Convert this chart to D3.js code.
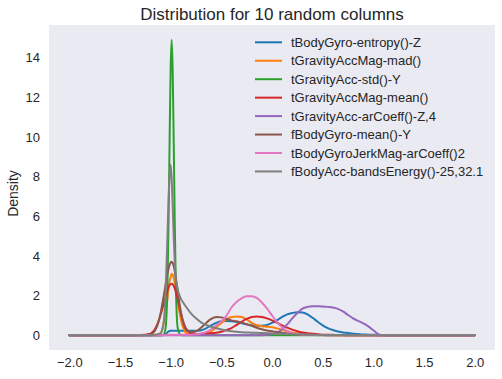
<!DOCTYPE html>
<html>
<head>
<meta charset="utf-8">
<script src="https://cdn.jsdelivr.net/npm/d3@7"></script>
<style>
  html, body { margin: 0; padding: 0; background: #ffffff; }
  svg { display: block; }
  text { font-family: "Liberation Sans", Arial, sans-serif; fill: #262626; }
</style>
</head>
<body>
<svg id="chart" width="502" height="379"></svg>
<script>
const titleText = "Distribution for 10 random columns";
const yLabel = "Density";
const xTicks = [-2.0, -1.5, -1.0, -0.5, 0.0, 0.5, 1.0, 1.5, 2.0];
const yTicks = [0, 2, 4, 6, 8, 10, 12, 14];

const seriesNames = [
  "tBodyGyro-entropy()-Z",
  "tGravityAccMag-mad()",
  "tGravityAcc-std()-Y",
  "tGravityAccMag-mean()",
  "tGravityAcc-arCoeff()-Z,4",
  "fBodyGyro-mean()-Y",
  "tBodyGyroJerkMag-arCoeff()2",
  "fBodyAcc-bandsEnergy()-25,32.1"
];
const seriesColors = ["#1f77b4", "#ff7f0e", "#2ca02c", "#d62728", "#9467bd", "#8c564b", "#e377c2", "#7f7f7f"];

// shared x grid (density evaluation points)
const xGrid = [-2.0, -1.5, -1.3, -1.2, -1.15, -1.1, -1.07, -1.05, -1.03, -1.02, -1.01, -1.0, -0.99, -0.98, -0.97, -0.96, -0.95, -0.93, -0.9, -0.87, -0.85, -0.8, -0.75, -0.7, -0.65, -0.6, -0.55, -0.5, -0.45, -0.4, -0.35, -0.3, -0.25, -0.2, -0.15, -0.1, -0.05, 0.0, 0.05, 0.1, 0.15, 0.2, 0.25, 0.3, 0.35, 0.4, 0.45, 0.5, 0.55, 0.6, 0.65, 0.7, 0.75, 0.8, 0.85, 0.9, 0.95, 1.0, 1.05, 1.1, 1.2, 1.5, 2.0];

const blueVals   = [0,0,0,0,0,0,0.01,0.05,0.15,0.19,0.21,0.22,0.22,0.22,0.22,0.22,0.22,0.22,0.22,0.22,0.22,0.22,0.22,0.25,0.35,0.5,0.62,0.7,0.72,0.7,0.66,0.6,0.55,0.5,0.48,0.48,0.52,0.62,0.76,0.92,1.05,1.12,1.16,1.15,1.05,0.88,0.68,0.5,0.36,0.26,0.19,0.14,0.11,0.08,0.06,0.04,0.03,0.02,0.01,0,0,0,0];
const orangeVals = [0,0,0,0,0.01,0.09,0.58,1.27,1.88,2.48,2.73,2.93,3.1,3.05,2.9,2.67,2.38,1.7,0.81,0.29,0.12,0.04,0.05,0.08,0.12,0.2,0.4,0.62,0.8,0.92,0.95,0.92,0.8,0.62,0.5,0.45,0.43,0.4,0.34,0.27,0.2,0.14,0.1,0.07,0.05,0.03,0.02,0.01,0,0,0,0,0,0,0,0,0,0,0,0,0,0,0];
const greenVals  = [0,0,0,0,0,0,0.03,0.36,2.85,5.9,9.9,13.4,14.9,13.4,9.9,5.9,2.85,0.36,0.01,0,0,0,0,0,0,0,0,0,0,0,0,0,0,0,0,0,0,0,0,0,0,0,0,0,0,0,0,0,0,0,0,0,0,0,0,0,0,0,0,0,0,0,0];
const redVals    = [0,0,0.01,0.08,0.35,1.01,1.58,1.95,2.29,2.42,2.52,2.58,2.6,2.57,2.49,2.37,2.21,1.8,1.13,0.6,0.35,0.1,0.06,0.06,0.08,0.1,0.13,0.18,0.26,0.36,0.52,0.68,0.82,0.92,0.95,0.92,0.85,0.75,0.63,0.5,0.38,0.28,0.2,0.14,0.1,0.07,0.05,0.03,0.02,0.02,0.01,0.01,0,0,0,0,0,0,0,0,0,0,0];
const purpleVals = [0,0,0,0,0,0,0,0,0,0,0,0,0,0,0,0,0,0,0,0,0,0,0,0,0,0,0,0,0,0,0,0,0,0,0,0,0.02,0.06,0.12,0.3,0.55,0.85,1.12,1.34,1.43,1.46,1.46,1.45,1.43,1.4,1.33,1.2,1.02,0.85,0.72,0.6,0.45,0.25,0.05,0,0,0,0];
const brownVals  = [0,0,0,0.04,0.27,1.08,1.93,2.55,3.15,3.37,3.55,3.66,3.7,3.65,3.5,3.26,2.96,2.24,1.2,0.5,0.3,0.15,0.2,0.38,0.62,0.82,0.92,0.9,0.82,0.75,0.7,0.64,0.56,0.47,0.38,0.3,0.24,0.2,0.16,0.12,0.09,0.07,0.05,0.04,0.03,0.02,0.01,0.01,0,0,0,0,0,0,0,0,0,0,0,0,0,0,0];
const pinkVals   = [0,0,0,0,0,0,0,0,0.01,0.02,0.03,0.03,0.03,0.03,0.03,0.03,0.03,0.03,0.03,0.03,0.03,0.03,0.05,0.09,0.16,0.3,0.5,0.7,0.98,1.4,1.68,1.86,1.96,1.97,1.88,1.65,1.35,1.0,0.65,0.4,0.22,0.11,0.06,0.03,0.02,0.01,0,0,0,0,0,0,0,0,0,0,0,0,0,0,0,0,0];
const grayVals   = [0,0,0,0,0.02,0.1,0.6,2.1,5.2,6.9,8.1,8.6,7.9,6.6,5.0,3.8,2.9,2.3,1.85,1.6,1.45,1.1,0.85,0.65,0.52,0.43,0.35,0.29,0.24,0.2,0.17,0.15,0.14,0.13,0.12,0.11,0.1,0.09,0.08,0.07,0.06,0.05,0.04,0.035,0.03,0.025,0.02,0.015,0.01,0.01,0.01,0.01,0.01,0.01,0.01,0.01,0.01,0.005,0,0,0,0,0];

const seriesValues = [blueVals, orangeVals, greenVals, redVals, purpleVals, brownVals, pinkVals, grayVals];

const svg = d3.select("#chart");
const margin = { left: 49, right: 7, top: 25, bottom: 29 };
const W = 502, H = 379;
const pw = W - margin.left - margin.right;
const ph = H - margin.top - margin.bottom;

const x = d3.scaleLinear().domain([-2.2, 2.2]).range([margin.left, margin.left + pw]);
const y = d3.scaleLinear().domain([-0.745, 15.645]).range([margin.top + ph, margin.top]);

svg.append("rect")
  .attr("x", margin.left).attr("y", margin.top)
  .attr("width", pw).attr("height", ph)
  .attr("fill", "#eaeaf2");

svg.append("clipPath").attr("id", "clip")
  .append("rect").attr("x", margin.left).attr("y", margin.top).attr("width", pw).attr("height", ph);

const line = d3.line()
  .x(d => x(d[0]))
  .y(d => y(d[1]))
  .curve(d3.curveMonotoneX);

const g = svg.append("g").attr("clip-path", "url(#clip)");
seriesValues.forEach((vals, i) => {
  const pts = xGrid.map((xv, j) => [xv, vals[j]]);
  g.append("path")
    .datum(pts)
    .attr("d", line)
    .attr("fill", "none")
    .attr("stroke", seriesColors[i])
    .attr("stroke-width", 2)
    .attr("stroke-linejoin", "round")
    .attr("stroke-linecap", "round");
});

// x axis
const xAxis = d3.axisBottom(x).tickValues(xTicks).tickFormat(d3.format(".1f")).tickSize(0).tickPadding(8);
const xg = svg.append("g").attr("transform", `translate(0,${margin.top + ph})`).call(xAxis);
xg.select(".domain").remove();
xg.selectAll("text").attr("font-size", 13).attr("fill", "#262626").attr("font-family", "Liberation Sans, Arial, sans-serif");

// y axis
const yAxis = d3.axisLeft(y).tickValues(yTicks).tickFormat(d3.format("d")).tickSize(0).tickPadding(9);
const yg = svg.append("g").attr("transform", `translate(${margin.left},0)`).call(yAxis);
yg.select(".domain").remove();
yg.selectAll("text").attr("font-size", 13).attr("fill", "#262626").attr("font-family", "Liberation Sans, Arial, sans-serif");

// title
svg.append("text")
  .attr("x", margin.left + pw / 2).attr("y", 20)
  .attr("text-anchor", "middle")
  .attr("font-size", 17)
  .text(titleText);

// y label
svg.append("text")
  .attr("transform", `translate(18,${margin.top + ph / 2 + 6}) rotate(-90)`)
  .attr("text-anchor", "middle")
  .attr("font-size", 14)
  .text(yLabel);

// legend
const leg = svg.append("g");
seriesNames.forEach((name, i) => {
  const cy = 42.3 + i * 18.45;
  leg.append("line")
    .attr("x1", 255).attr("x2", 282)
    .attr("y1", cy).attr("y2", cy)
    .attr("stroke", seriesColors[i]).attr("stroke-width", 2);
  leg.append("text")
    .attr("x", 291).attr("y", cy)
    .attr("dy", "0.35em")
    .attr("font-size", 13)
    .text(name);
});
</script>
</body>
</html>
